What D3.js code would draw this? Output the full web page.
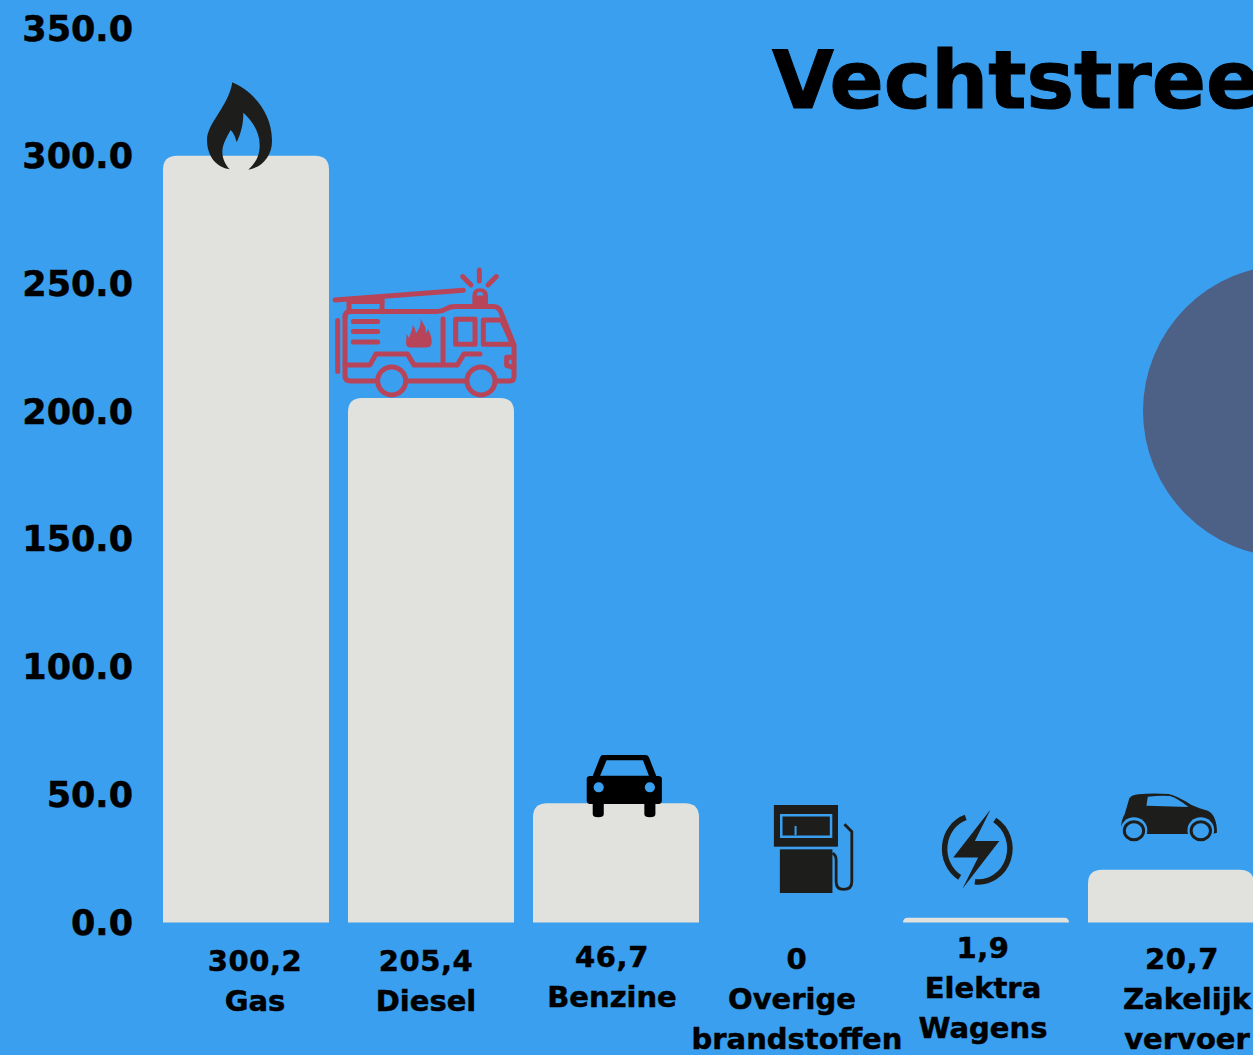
<!DOCTYPE html>
<html><head><meta charset="utf-8">
<style>
html,body{margin:0;padding:0;background:#3a9fef;overflow:hidden}
text{font-family:"DejaVu Sans",sans-serif;font-weight:700;fill:#000;stroke:#000;stroke-width:.5px}
.ns{vector-effect:non-scaling-stroke}
</style>
<script src="https://cdn.jsdelivr.net/npm/d3@7"></script>
</head><body><svg id="c" width="1253" height="1055"></svg>
<script>
const categories = ["Gas","Diesel","Benzine","Overige brandstoffen","Elektra Wagens","Zakelijk vervoer"];
const values = [300.2,205.4,46.7,0,1.9,20.7];
const valueLabels = ["300,2","205,4","46,7","0","1,9","20,7"];
const categoryLines = [["Gas"],["Diesel"],["Benzine"],["Overige","brandstoffen"],["Elektra","Wagens"],["Zakelijk","vervoer"]];
const yTicks = [0,50,100,150,200,250,300,350];
const titleText = "Vechtstreek";

const W=1253,H=1055;
const svg=d3.select("#c");
svg.append("rect").attr("width",W).attr("height",H).attr("fill","#3a9fef");
const y=d3.scaleLinear().domain([0,350]).range([922.5,28.6]);
const x=d3.scaleBand().domain(categories).range([153.5,1263.5]).paddingInner(0.1027).paddingOuter(0.0514);

svg.append("circle").attr("cx",1289).attr("cy",411).attr("r",146).attr("fill","#4d6086");
svg.append("text").attr("x",772).attr("y",108).attr("font-size",80).style("stroke-width","1px").text(titleText);

const yAxis=d3.axisLeft(y).tickValues(yTicks).tickFormat(d3.format(".1f")).tickSize(0).tickPadding(0);
const ga=svg.append("g").attr("transform","translate(133,0)").call(yAxis);
ga.select(".domain").remove();
ga.selectAll("text").attr("font-size",35).attr("fill","#000").attr("font-family",'"DejaVu Sans"').attr("font-weight",700).attr("dy","0.33em");

function barPath(d,i){
  const x0=x(categories[i]),w=x.bandwidth(),t=y(d),b=y(0),h=b-t;
  if(h<=0) return "";
  const r=Math.min(14,h);
  return `M${x0},${b}V${t+r}Q${x0},${t} ${x0+r},${t}H${x0+w-r}Q${x0+w},${t} ${x0+w},${t+r}V${b}Z`;
}
svg.append("g").selectAll("path").data(values).join("path").attr("d",barPath).attr("fill","#e1e2dd");

const dark="#1d1d1b", red="#b8445a", bg="#3a9fef";
const wide=1/2.169, tall=1/3;
const icons=[
 {sx:tall,sy:tall,dx:-3,dy:-85.8,draw:g=>{
  g.append("path").attr("fill",dark).attr("d","M217 37C270 60 336 120 336 212C336 260 305 292 265 299C290 275 299 255 299 225C299 185 275 150 250 128C250 165 242 190 230 217C226 200 220 188 212 180C198 205 187 225 187 245C187 265 195 282 209 298C170 292 141 260 141 210C141 160 205 110 217 37Z");
 }},
 {sx:tall,sy:tall,dx:-188,dy:-328,draw:g=>{
  const st=g.append("g").attr("fill","none").attr("stroke",red).attr("stroke-width",15).attr("stroke-linecap","round").attr("stroke-linejoin","round");
  ["M525 690L910 661","M567 690V725","M666 690V725","M567 695H666",
   "M555 742Q555 725 572 725H830Q845 725 860 716Q870 710 885 710H1000Q1015 710 1022 725L1062 825V920Q1062 933 1050 933H1012",
   "M915 933H745","M648 933H572Q555 933 555 920V742","M533 752V905",
   "M580 755H653","M580 785H653","M580 816H653","M849 747V880",
   "M887 748H945V823H887Z","M970 750H1025L1058 823H970Z",
   "M555 885H630L648 852H742L762 885H892L912 852H960",
   "M1062 862H1040V887L1062 893",
   "M958 600V633","M908 620L933 645","M1009 620L984 645"].forEach(p=>st.append("path").attr("d",p));
  st.append("circle").attr("cx",695).attr("cy",933).attr("r",42);
  st.append("circle").attr("cx",963).attr("cy",933).attr("r",42);
  g.append("path").attr("fill",red).attr("d","M937 702V680Q937 655 960 655Q984 655 984 680V702Z");
  g.append("path").attr("fill",bg).attr("d","M950 677Q950 666 960 666Q970 666 970 677Z");
  g.append("path").attr("fill",red).attr("d","M782 745C790 765 800 770 797 790C803 785 803 780 802 775C815 795 815 810 815 820Q813 833 800 833H752Q738 833 738 820L740 792L748 805C750 790 757 785 758 765C764 772 766 780 768 790C776 780 784 765 782 745Z");
 }},
 {sx:wide,sy:tall,dx:-3,dy:-63.2,draw:g=>{
  g.append("path").attr("fill","#000").attr("d","M158 45H250Q256 45 258 52L274 108H278Q286 108 286 116V182Q286 192 276 192H272V222Q272 232 260 232Q248 232 248 222V192H160V222Q160 232 148 232Q136 232 136 222V192H133Q123 192 123 182V116Q123 108 131 108H136L152 52Q154 45 158 45Z");
  g.append("path").attr("fill",bg).attr("d","M166 61H245L258 107H152Z");
  g.append("ellipse").attr("cx",149).attr("cy",142).attr("rx",11).attr("ry",15).attr("fill",bg);
  g.append("ellipse").attr("cx",260).attr("cy",142).attr("rx",11).attr("ry",15).attr("fill",bg);
 }},
 {sx:wide,sy:tall,dx:-188,dy:-182.5,draw:g=>{
  g.append("rect").attr("x",529).attr("y",195).attr("width",139).attr("height",125).attr("fill",dark);
  g.append("rect").attr("class","ns").attr("x",545).attr("y",226).attr("width",108).attr("height",64).attr("fill","none").attr("stroke",bg).attr("stroke-width",2.5);
  g.append("path").attr("class","ns").attr("d","M576 258V286").attr("stroke",bg).attr("stroke-width",2).attr("fill","none");
  g.append("rect").attr("x",542).attr("y",328).attr("width",114).attr("height",131).attr("fill",dark);
  g.append("path").attr("class","ns").attr("fill","none").attr("stroke",dark).attr("stroke-width",2.8).attr("d","M682 253L698 275V425Q698 448 680 448Q664 448 664 425V360Q664 345 656 340");
 }},
 {sx:wide,sy:tall,dx:-373,dy:-177.6,draw:g=>{
  g.append("path").attr("fill",dark).attr("d","M999 208L918 352H972L938 446L1018 303H965Z");
  g.append("path").attr("class","ns").attr("fill","none").attr("stroke",dark).attr("stroke-width",5.5).attr("d","M945 232A68 100 0 0 0 932 412");
  g.append("path").attr("class","ns").attr("fill","none").attr("stroke",dark).attr("stroke-width",5.5).attr("d","M1008 240A68 100 0 0 1 965 425");
 }},
 {sx:wide,sy:tall,dx:-558,dy:-129.6,draw:g=>{
  g.append("path").attr("fill",dark).attr("d","M1282 268Q1282 240 1290 222L1300 175Q1305 165 1320 163Q1350 158 1385 162Q1402 166 1435 195Q1450 205 1470 212Q1490 225 1490 278L1480 282H1335V285H1285Z");
  g.append("path").attr("fill",bg).attr("d","M1337 197L1340 170Q1370 165 1388 168Q1402 172 1428 201Z");
  [1310,1455].forEach(cx=>{
   g.append("ellipse").attr("cx",cx).attr("cy",270).attr("rx",29).attr("ry",38).attr("fill",bg);
   g.append("ellipse").attr("class","ns").attr("cx",cx).attr("cy",272).attr("rx",21).attr("ry",27).attr("fill",bg).attr("stroke",dark).attr("stroke-width",3);
  });
 }}
];
icons.forEach((ic,i)=>{
  const g=svg.append("g").attr("transform",`translate(${x(categories[i])+ic.dx},${y(values[i])+ic.dy}) scale(${ic.sx},${ic.sy})`);
  ic.draw(g);
});

const labelLayout=[
 {cx:[255,255],base:[971,1011]},
 {cx:[426,426],base:[971,1011]},
 {cx:[612,612],base:[967,1007]},
 {cx:[797,792,797],base:[969,1009,1049]},
 {cx:[983,983,983],base:[958,998,1038]},
 {cx:[1182,1187,1187],base:[969,1009,1049]}
];
categories.forEach((c,i)=>{
  const lines=[valueLabels[i],...categoryLines[i]];
  svg.append("g").selectAll("text").data(lines).join("text")
    .attr("text-anchor","middle").attr("font-size",29)
    .style("letter-spacing",(d,j)=>j===0?"0.6px":null)
    .attr("x",(d,j)=>labelLayout[i].cx[j]).attr("y",(d,j)=>labelLayout[i].base[j]).text(d=>d);
});
</script></body></html>
